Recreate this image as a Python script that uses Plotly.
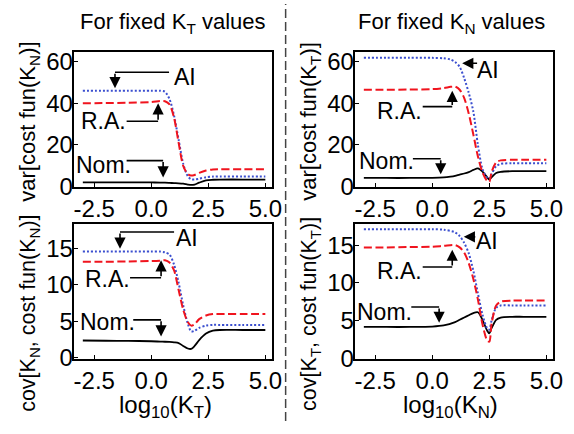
import plotly.graph_objects as go

# ---------------- data ----------------
# Top-left: var[cost fun(K_N)] vs log10(K_T)
tl_x = [-3, -2, -1, 0, 0.4, 0.6, 0.8, 1.0, 1.2, 1.4, 1.6, 1.75, 1.9, 2.1, 2.4, 2.7, 3.0, 4.0, 5.0]
tl_ai = [46, 46, 46, 46, 46, 45.5, 42, 34, 22.5, 11, 5, 3.5, 3.4, 3.8, 4.5, 4.8, 4.9, 4.9, 4.9]
tl_ra = [40, 40.1, 40.3, 40.6, 41.1, 41.0, 39.5, 33, 21, 10, 6, 5.3, 5.6, 6.6, 7.7, 8.2, 8.3, 8.3, 8.3]
tl_nom = [2.0, 2.0, 2.0, 2.0, 1.95, 1.9, 1.8, 1.7, 1.6, 1.4, 1.0, 0.8, 1.0, 1.9, 3.0, 3.3, 3.4, 3.4, 3.4]

# Top-right: var[cost fun(K_T)] vs log10(K_N)
tr_x = [-3, -2, -1, 0, 0.5, 0.8, 1.0, 1.2, 1.4, 1.6, 1.8, 2.0, 2.2, 2.4, 2.5, 2.6, 2.8, 3.0, 3.5, 4.0, 5.0]
tr_ai = [61.8, 61.8, 61.8, 61.8, 61.6, 61.0, 59.8, 57.5, 52, 45, 36, 20, 8.5, 4.3, 3.8, 6, 9.8, 10.9, 11.2, 11.2, 11.2]
tr_ra = [46.5, 46.5, 46.6, 46.8, 47.3, 47.9, 48.0, 46.5, 42.5, 35, 25, 14.5, 6.8, 2.8, 2.3, 7, 11.6, 12.6, 12.9, 12.9, 12.9]
tr_nom = [4.15, 4.15, 4.15, 4.2, 4.4, 4.8, 5.2, 5.8, 6.3, 7.0, 8.0, 8.8, 7.2, 4.6, 3.4, 4.5, 6.5, 7.1, 7.4, 7.4, 7.4]

# Bottom-left: cov[K_N, cost fun(K_N)] vs log10(K_T)
bl_x = [-3, -2, -1, 0, 0.4, 0.6, 0.8, 1.0, 1.2, 1.4, 1.6, 1.75, 1.9, 2.1, 2.4, 2.7, 3.0, 4.0, 5.0]
bl_ai = [14.6, 14.6, 14.6, 14.6, 14.6, 14.5, 14.2, 12.8, 10.3, 7.2, 4.7, 3.6, 3.7, 4.1, 4.4, 4.5, 4.5, 4.5, 4.5]
bl_ra = [13.2, 13.2, 13.25, 13.3, 13.35, 13.4, 13.1, 12.0, 9.3, 6.6, 4.9, 4.4, 4.6, 5.3, 5.8, 6.0, 6.0, 6.0, 6.0]
bl_nom = [2.35, 2.32, 2.3, 2.25, 2.2, 2.18, 2.15, 2.1, 2.0, 1.6, 1.25, 1.2, 1.6, 2.4, 3.3, 3.7, 3.8, 3.8, 3.8]

# Bottom-right: cov[K_T, cost fun(K_T)] vs log10(K_N)
br_x = [-3, -2, -1, 0, 0.5, 1.0, 1.2, 1.4, 1.6, 1.8, 2.0, 2.2, 2.4, 2.5, 2.6, 2.8, 3.0, 3.5, 4.0, 5.0]
br_ai = [17.1, 17.1, 17.1, 17.1, 17.05, 16.7, 16.2, 15.3, 13.9, 11.6, 8.6, 5.8, 4.0, 3.8, 5.0, 6.7, 7.0, 7.0, 7.0, 7.0]
br_ra = [14.7, 14.7, 14.75, 14.8, 14.9, 15.0, 14.7, 14.0, 12.6, 10.5, 7.8, 4.5, 2.4, 2.2, 4.6, 7.0, 7.5, 7.65, 7.65, 7.65]
br_nom = [4.15, 4.15, 4.15, 4.2, 4.35, 4.8, 5.1, 5.4, 5.7, 6.0, 6.1, 5.1, 3.7, 3.3, 4.0, 5.1, 5.4, 5.5, 5.5, 5.5]

x_ticks = [-2.5, 0.0, 2.5, 5.0]
x_tick_text = ["-2.5", "0.0", "2.5", "5.0"]
top_y_ticks = [0, 20, 40, 60]
bot_y_ticks = [0, 5, 10, 15]

titles = ["For fixed K<sub>T</sub> values", "For fixed K<sub>N</sub> values"]
y_titles = ["var[cost fun(K<sub>N</sub>)]", "var[cost fun(K<sub>T</sub>)]",
            "cov[K<sub>N</sub>, cost fun(K<sub>N</sub>)]", "cov[K<sub>T</sub>, cost fun(K<sub>T</sub>)]"]
x_titles = ["log<sub>10</sub>(K<sub>T</sub>)", "log<sub>10</sub>(K<sub>N</sub>)"]
labels = ["AI", "R.A.", "Nom."]

FONT = "Liberation Sans, Arial, sans-serif"
W, H = 574, 434

fig = go.Figure()

panels = [
    ("x", "y", tl_x, tl_ai, tl_ra, tl_nom),
    ("x2", "y2", tr_x, tr_ai, tr_ra, tr_nom),
    ("x3", "y3", bl_x, bl_ai, bl_ra, bl_nom),
    ("x4", "y4", br_x, br_ai, br_ra, br_nom),
]
for xa, ya, xs, ai, ra, nom in panels:
    fig.add_trace(go.Scatter(x=xs, y=nom, xaxis=xa, yaxis=ya, mode="lines",
                             line=dict(color="black", width=1.8, shape="spline", smoothing=0.8)))
    fig.add_trace(go.Scatter(x=xs, y=ai, xaxis=xa, yaxis=ya, mode="lines",
                             line=dict(color="#3b4fcf", width=2, dash="2px,2px", shape="spline", smoothing=0.8)))
    fig.add_trace(go.Scatter(x=xs, y=ra, xaxis=xa, yaxis=ya, mode="lines",
                             line=dict(color="#f0141e", width=2, dash="8px,3.5px", shape="spline", smoothing=0.8)))

# pixel layout of the four frames
frames = {
    "1": (75, 277, 50, 190.5),
    "2": (361, 563, 50, 190.5),
    "3": (75, 277, 229, 369.5),
    "4": (361, 563, 229, 369.5),
}
yranges = {"1": [-0.2, 64.6], "2": [-0.2, 64.6], "3": [-0.2, 18.4], "4": [-0.1, 17.8]}
yticks = {"1": top_y_ticks, "2": top_y_ticks, "3": bot_y_ticks, "4": bot_y_ticks}

axis_common = dict(showline=True, linecolor="black", linewidth=2, mirror=True,
                   ticks="inside", ticklen=4, tickwidth=1.2, tickcolor="black",
                   showgrid=False, zeroline=False,
                   tickfont=dict(family=FONT, size=24, color="black"))
for k, (x0, x1, y0, y1) in frames.items():
    suffix = "" if k == "1" else k
    fig.layout["xaxis" + suffix] = dict(
        axis_common, domain=[x0 / W, x1 / W], range=[-3.4, 5.3], anchor="y" + suffix,
        tickvals=x_ticks, ticktext=x_tick_text, ticklabelstandoff=-1)
    fig.layout["yaxis" + suffix] = dict(
        axis_common, domain=[1 - y1 / H, 1 - y0 / H], range=yranges[k], anchor="x" + suffix,
        tickvals=yticks[k], ticklabelstandoff=-6)

annotations = []
shapes = []

def txt(s, x, y, xref, yref, size=22, angle=0):
    annotations.append(dict(text=s, x=x, y=y, xref=xref, yref=yref, showarrow=False,
                            textangle=angle, xanchor="center", yanchor="middle",
                            font=dict(family=FONT, size=size, color="black")))

def arrow(tail, tip, ax_name):
    annotations.append(dict(text="", x=tip[0], y=tip[1], ax=tail[0], ay=tail[1],
                            xref=ax_name[0], yref=ax_name[1], axref=ax_name[0], ayref=ax_name[1],
                            showarrow=True, arrowhead=2, arrowsize=1.4, arrowwidth=1.6,
                            arrowcolor="black", standoff=0, startstandoff=0))

def seg(p0, p1, ax_name):
    shapes.append(dict(type="line", x0=p0[0], y0=p0[1], x1=p1[0], y1=p1[1],
                       xref=ax_name[0], yref=ax_name[1], line=dict(color="black", width=1.6)))

LS = 23
# top-left
A = ("x", "y")
txt(labels[0], 1.5, 52.8, *A, size=LS)
seg((0.78, 54.9), (-1.59, 54.9), A); arrow((-1.59, 54.9), (-1.59, 47.2), A)
txt(labels[1], -2.09, 31.3, *A, size=LS)
seg((-1.08, 31.4), (0.30, 31.4), A); arrow((0.30, 31.4), (0.30, 40.0), A)
txt(labels[2], -2.09, 10.6, *A, size=LS)
seg((-1.08, 12.5), (0.52, 12.5), A); arrow((0.52, 12.5), (0.52, 4.4), A)

# top-right
A = ("x2", "y2")
txt(labels[0], 2.46, 56.0, *A, size=LS)
arrow((2.03, 59.2), (1.31, 59.2), A)
txt(labels[1], -1.42, 36.5, *A, size=LS)
seg((-0.42, 38.4), (0.875, 38.4), A); arrow((0.875, 38.4), (0.875, 46.0), A)
txt(labels[2], -2.01, 12.5, *A, size=LS)
seg((-0.85, 13.4), (0.37, 13.4), A); arrow((0.37, 13.4), (0.37, 5.9), A)

# bottom-left
A = ("x3", "y3")
txt(labels[0], 1.58, 16.5, *A, size=LS)
seg((1.0, 17.3), (-1.37, 17.3), A); arrow((-1.37, 17.3), (-1.37, 15.0), A)
txt(labels[1], -1.9, 10.8, *A, size=LS)
seg((-0.93, 11.0), (0.43, 11.0), A); arrow((0.43, 11.0), (0.43, 13.4), A)
txt(labels[2], -1.94, 4.9, *A, size=LS)
seg((-0.79, 5.2), (0.43, 5.2), A); arrow((0.43, 5.2), (0.43, 2.9), A)

# bottom-right
A = ("x4", "y4")
txt(labels[0], 2.42, 15.6, *A, size=LS)
arrow((1.95, 16.1), (1.38, 16.1), A)
txt(labels[1], -1.42, 11.6, *A, size=LS)
seg((-0.42, 12.1), (0.875, 12.1), A); arrow((0.875, 12.1), (0.875, 14.4), A)
txt(labels[2], -2.1, 6.1, *A, size=LS)
seg((-0.92, 6.8), (0.3, 6.8), A); arrow((0.3, 6.8), (0.3, 4.7), A)

# titles (paper coords from pixel positions)
txt(titles[0], 176 / W, 1 - 20 / H, "paper", "paper", size=22)
txt(titles[1], 460 / W, 1 - 20 / H, "paper", "paper", size=22)
txt(y_titles[0], 30 / W, 1 - 122 / H, "paper", "paper", size=22, angle=-90)
txt(y_titles[1], 316 / W, 1 - 122 / H, "paper", "paper", size=22, angle=-90)
txt(y_titles[2], 30 / W, 1 - 322 / H, "paper", "paper", size=21.5, angle=-90)
txt(y_titles[3], 316 / W, 1 - 322 / H, "paper", "paper", size=21.5, angle=-90)
txt(x_titles[0], 168 / W, 1 - 419 / H, "paper", "paper", size=24)
txt(x_titles[1], 458 / W, 1 - 419 / H, "paper", "paper", size=24)

# dashed separator
shapes.append(dict(type="line", x0=290.7 / W, x1=290.7 / W, y0=0, y1=1, xref="paper", yref="paper",
                   line=dict(color="#444444", width=1.5, dash="9px,4px")))

fig.update_layout(width=W, height=H, margin=dict(l=0, r=0, t=0, b=0),
                  paper_bgcolor="white", plot_bgcolor="white", showlegend=False,
                  annotations=annotations, shapes=shapes,
                  font=dict(family=FONT, color="black"))

fig.write_html("out.html")
